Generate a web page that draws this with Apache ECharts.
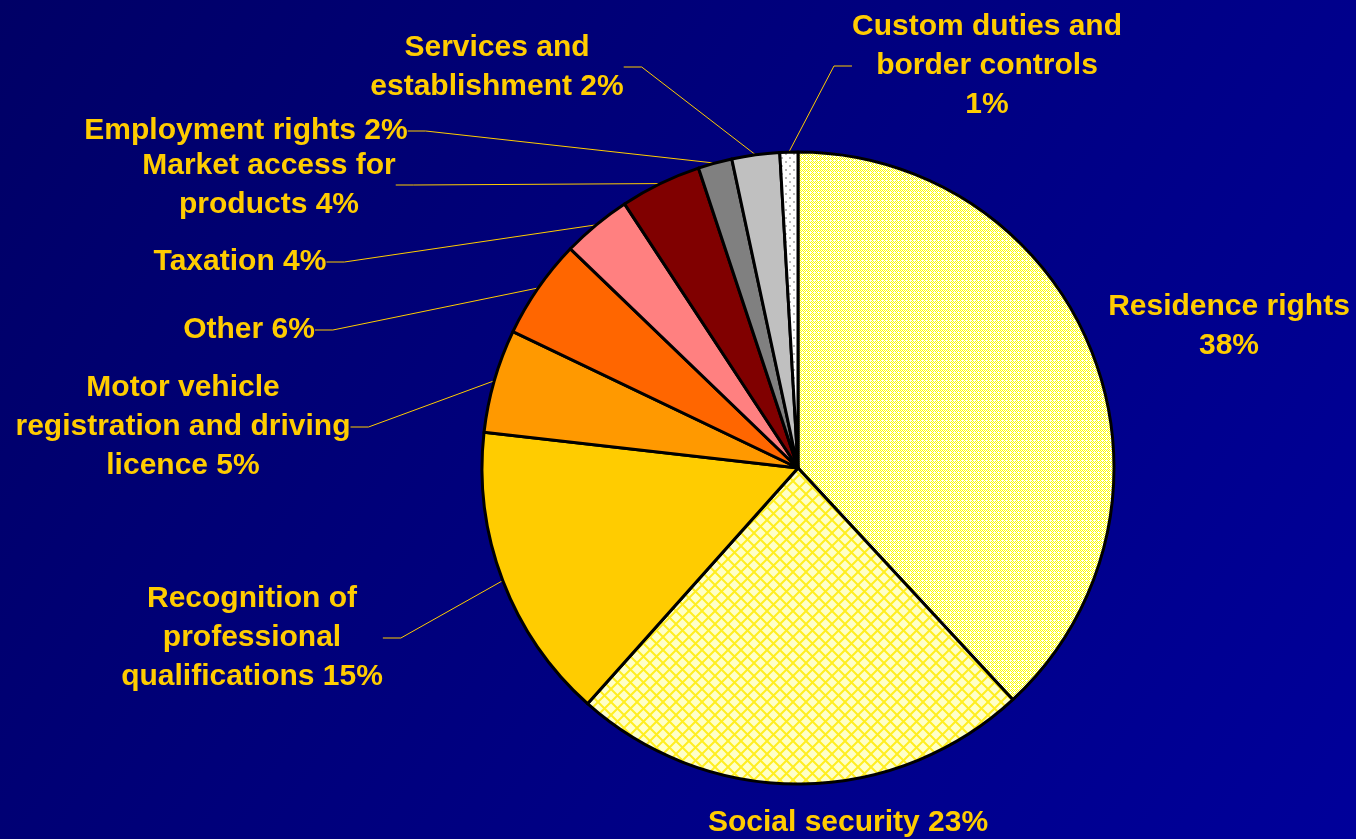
<!DOCTYPE html>
<html>
<head>
<meta charset="utf-8">
<script src="https://cdn.jsdelivr.net/npm/echarts@6/dist/echarts.min.js"></script>
<style>
html,body{margin:0;padding:0;width:1356px;height:839px;overflow:hidden;}
#main{width:1356px;height:839px;}
</style>
</head>
<body>
<div id="main"></div>
<script>
// Categories (clockwise from 12 o'clock)
var categories = [
  'Residence rights',
  'Social security',
  'Recognition of professional qualifications',
  'Motor vehicle registration and driving licence',
  'Other',
  'Taxation',
  'Market access for products',
  'Employment rights',
  'Services and establishment',
  'Custom duties and border controls'
];
// Shares (percent of the pie)
var shares = [38.1, 23.5, 15.2, 5.3, 5.1, 3.55, 4.15, 1.74, 2.44, 0.92];
// Percent labels as printed on the chart
var pctLabels = ['38%', '23%', '15%', '5%', '6%', '4%', '4%', '2%', '2%', '1%'];
// Label text as broken into lines on the chart
var labelTexts = [
  'Residence rights\n38%',
  'Social security 23%',
  'Recognition of\nprofessional\nqualifications 15%',
  'Motor vehicle\nregistration and driving\nlicence 5%',
  'Other 6%',
  'Taxation 4%',
  'Market access for\nproducts 4%',
  'Employment rights 2%',
  'Services and\nestablishment 2%',
  'Custom duties and\nborder controls\n1%'
];

// ---- layout / style (kept apart from the data) ----
var labelPos = [
  [1229, 326], [848, 823], [252, 638], [183, 427], [249, 330],
  [240, 262], [269, 185], [246, 131], [497, 67], [987, 66]
];
var showLine = [false, false, true, true, true, true, true, true, true, true];

function makePattern(size, draw) {
  var c = document.createElement('canvas');
  c.width = size; c.height = size;
  var ctx = c.getContext('2d');
  draw(ctx, size);
  return { image: c, repeat: 'repeat' };
}
var patResidence = makePattern(4, function (ctx) {
  ctx.fillStyle = '#ffffff'; ctx.fillRect(0, 0, 4, 4);
  ctx.fillStyle = '#ffff00';
  [[0,0],[1,3],[2,2],[3,1],[1,1],[3,3],[0,2]].forEach(function (p) { ctx.fillRect(p[0], p[1], 1, 1); });
});
var patSocial = makePattern(13, function (ctx, s) {
  ctx.fillStyle = '#ffffc8'; ctx.fillRect(0, 0, s, s);
  ctx.strokeStyle = '#ffee22'; ctx.lineWidth = 2;
  ctx.beginPath();
  ctx.moveTo(-1, -1); ctx.lineTo(s + 1, s + 1);
  ctx.moveTo(s + 1, -1); ctx.lineTo(-1, s + 1);
  ctx.stroke();
});
var patCustom = makePattern(8, function (ctx) {
  ctx.fillStyle = '#ffffff'; ctx.fillRect(0, 0, 8, 8);
  ctx.fillStyle = '#b8b8b8';
  ctx.fillRect(1, 1, 2, 2); ctx.fillRect(5, 5, 2, 2);
});
var fills = [patResidence, patSocial, '#ffcc00', '#ff9900', '#ff6600',
             '#ff8080', '#800000', '#808080', '#c0c0c0', patCustom];

var data = categories.map(function (c, i) {
  return {
    name: c,
    value: shares[i],
    itemStyle: { color: fills[i] },
    labelLine: { show: showLine[i] }
  };
});

var chart = echarts.init(document.getElementById('main'), null, { renderer: 'canvas' });
chart.setOption({
  animation: false,
  backgroundColor: {
    type: 'linear', x: 0, y: 0, x2: 1, y2: 1,
    colorStops: [{ offset: 0, color: '#000066' }, { offset: 1, color: '#00009a' }]
  },
  series: [{
    type: 'pie',
    center: [798, 468],
    radius: 316,
    startAngle: 90,
    clockwise: true,
    avoidLabelOverlap: false,
    data: data,
    itemStyle: { borderColor: '#000000', borderWidth: 3 },
    label: {
      show: true,
      position: 'outside',
      formatter: function (p) { return labelTexts[p.dataIndex]; },
      color: '#ffcc00',
      fontFamily: '"Liberation Sans", Arial, sans-serif',
      fontWeight: 'bold',
      fontSize: 30,
      lineHeight: 39,
      align: 'center'
    },
    labelLine: {
      show: true,
      length: 10,
      length2: 18,
      smooth: false,
      lineStyle: { color: '#ffcc00', width: 1 }
    },
    labelLayout: function (p) {
      var pos = labelPos[p.dataIndex];
      return { x: pos[0], y: pos[1], align: 'center', verticalAlign: 'middle' };
    },
    emphasis: { disabled: true }
  }]
});
</script>
</body>
</html>
